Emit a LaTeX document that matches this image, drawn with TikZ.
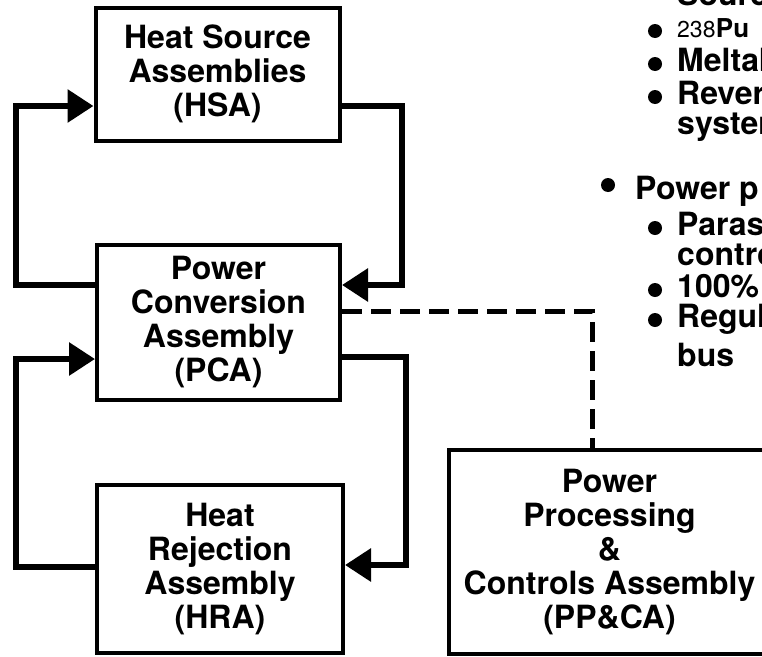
\documentclass[tikz,border=0pt]{standalone}
\usepackage{fontspec}
\setmainfont{TeX Gyre Heros}
\usetikzlibrary{arrows.meta}

\newcommand{\boxfont}{\fontsize{32}{34}\selectfont\bfseries}
\newcommand{\isofont}{\fontsize{23}{23}\selectfont\mdseries}
\newcommand{\elemfont}{\fontsize{26}{26}\selectfont\bfseries}

\begin{document}
\begin{tikzpicture}[x=1pt,y=-1pt]

\tikzset{
  unit box/.style={
    draw,
    line width=4pt,
    inner sep=0pt,
    align=center,
    font=\boxfont,
  },
  flow/.style={line width=6pt, -{Triangle[length=26pt,width=32pt]}},
  ctrl link/.style={line width=5pt, dash pattern=on 20pt off 9pt},
  item text/.style={anchor=base west, inner sep=0pt, font=\boxfont},
  item dot/.style={circle, fill, inner sep=0pt, minimum size=14pt},
}

\useasboundingbox (0,0) rectangle (762,656);
\clip (0,0) rectangle (762,656);

% Assemblies
\node[unit box, minimum width=244pt, minimum height=133pt] (hsa) at (217.5,74)
  {Heat Source\\Assemblies\\(HSA)};
\node[unit box, minimum width=243pt, minimum height=155pt] (pca) at (218.5,322)
  {Power\\Conversion\\Assembly\\(PCA)};
\node[unit box, minimum width=246pt, minimum height=168pt] (hra) at (220,569)
  {Heat\\Rejection\\Assembly\\(HRA)};
\node[unit box, minimum width=321pt, minimum height=204pt] (ppca) at (609.5,552)
  {Power\\Processing\\\&\\Controls Assembly\\(PP\&CA)};

% Heat source loop
\draw[flow] ([yshift=37pt]pca.west) -- ++(-79,0) |- ([yshift=-32pt]hsa.west);
\draw[flow] ([yshift=-32pt]hsa.east) -- ++(60,0) |- ([yshift=37pt]pca.east);

% Heat rejection loop
\draw[flow] ([yshift=2pt]hra.west) -- ++(-79,0) |- ([yshift=-37pt]pca.west);
\draw[flow] ([yshift=-35pt]pca.east) -- ++(64,0) |- ([yshift=4pt]hra.east);

% Control link
\draw[ctrl link] ([yshift=11pt]pca.east) -| ([xshift=-17.5pt]ppca.north);

% Feature list (cut at the right edge)
\node[item text] (src) at (677,5) {Source};
\node[item dot] (d1) at (655,31) {};
\node[item text, font=\isofont] (iso) at (677,37) {238};
\node[item text, font=\elemfont] (pu) at (iso.base east) {Pu};
\node[item dot] (d2) at (655,64) {};
\node[item text] (melt) at (677,71) {Meltab};
\node[item dot] (d3) at (655,97) {};
\node[item text] (rev) at (677,104) {Rever};
\node[item text] (sys) at (677,134) {system};

\node[item dot] (d4) at (608,185) {};
\node[item text] (pwr) at (635,199) {Power p};
\node[item dot] (d5) at (655,228) {};
\node[item text] (para) at (677,235) {Parasi};
\node[item text] (ctl) at (677,265) {contro};
\node[item dot] (d6) at (655,290) {};
\node[item text] (full) at (677,297) {100\%};
\node[item dot] (d7) at (655,320) {};
\node[item text] (reg) at (677,327) {Regul};
\node[item text] (bus) at (677,366) {bus};

\end{tikzpicture}
\end{document}
